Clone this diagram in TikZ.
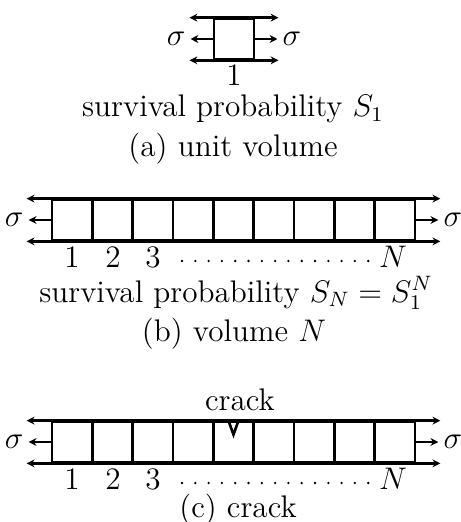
\documentclass[tikz,border=0pt]{standalone}
\usetikzlibrary{arrows.meta,calc}
\tikzset{
  cell/.style={draw, line width=1pt, minimum width=15.5pt, minimum height=15.4pt, inner sep=0pt},
  lab/.style={anchor=base, inner sep=0pt},
  sig/.style={inner sep=1.5pt},
}
\begin{document}
\begin{tikzpicture}[x=0.384pt, y=-0.384pt, >={Stealth[length=3pt,width=3pt]}, line width=1pt,
  font=\fontsize{12}{14}\selectfont]
\useasboundingbox (0,0) rectangle (461,522);
% (a) unit volume
\node[cell] (a1) at (234,39) {};
\draw[<->] ($(a1.north west)+(-23,0)$) -- ($(a1.north east)+(23,0)$);
\draw[<->] ($(a1.south west)+(-23,0)$) -- ($(a1.south east)+(23,0)$);
\draw[->] (a1.west) -- ++(-22,0) node[sig,left] {$\sigma$};
\draw[->] (a1.east) -- ++(22,0) node[sig,right] {$\sigma$};
\node[lab] (a1lab) at (234,86) {1};
\node[lab] (asurv) at (233,117) {survival probability $S_1$};
\node[lab] (acap) at (233,157) {(a) unit volume};
% (b) volume N
\foreach \i in {1,...,9}
  \node[cell] (b\i) at ({52+40.33*(\i-0.5)},220) {};
\draw[<->] ($(b1.north west)+(-24,0)$) -- ($(b9.north east)+(24,0)$);
\draw[<->] ($(b1.south west)+(-24,0)$) -- ($(b9.south east)+(24,0)$);
\draw[->] (b1.west) -- ++(-22,0) node[sig,left] {$\sigma$};
\draw[->] (b9.east) -- ++(22,0) node[sig,right] {$\sigma$};
\node[lab] (b1lab) at (72,267) {1};
\node[lab] (b2lab) at (113,267) {2};
\node[lab] (b3lab) at (153,267) {3};
\node[lab] (bNlab) at (393,267) {$N$};
\foreach \k in {0,...,14}
  \fill ({182+13.3*\k},261) circle (1.3);
\node[lab] (bsurv) at (236,302) {survival probability $S_N=S_1^N$};
\node[lab] (bcap) at (234,341) {(b) volume $N$};
% (c) crack
\foreach \i in {1,...,9}
  \node[cell] (c\i) at ({52+40.33*(\i-0.5)},442) {};
\draw[<->] ($(c1.north west)+(-24,0)$) -- ($(c9.north east)+(24,0)$);
\draw[<->] ($(c1.south west)+(-24,0)$) -- ($(c9.south east)+(24,0)$);
\draw[->] (c1.west) -- ++(-22,0) node[sig,left] {$\sigma$};
\draw[->] (c9.east) -- ++(22,0) node[sig,right] {$\sigma$};
\draw ($(c5.north)+(-5,0)$) -- ($(c5.north)+(0,14)$) -- ($(c5.north)+(5,0)$);
\node[lab] (crack) at (240,410) {crack};
\node[lab] (c1lab) at (72,489) {1};
\node[lab] (c2lab) at (113,489) {2};
\node[lab] (c3lab) at (153,489) {3};
\node[lab] (cNlab) at (393,489) {$N$};
\foreach \k in {0,...,14}
  \fill ({182+13.3*\k},483) circle (1.3);
\node[lab] (ccap) at (238,517) {(c) crack};
\end{tikzpicture}
\end{document}
